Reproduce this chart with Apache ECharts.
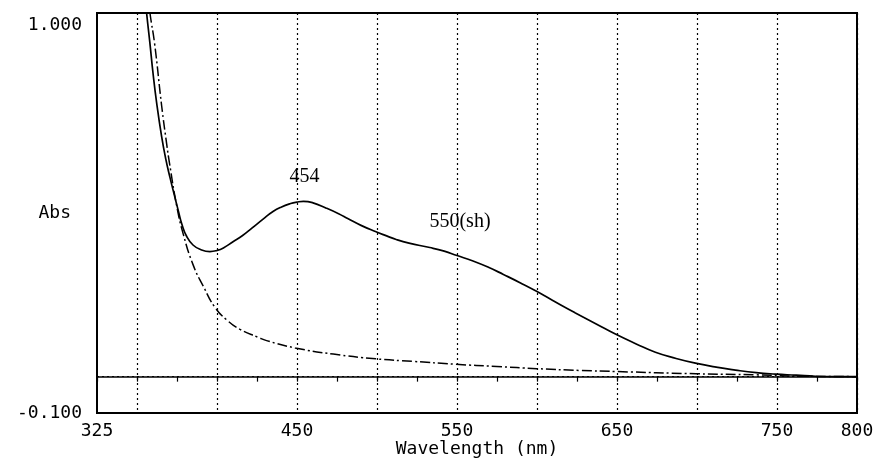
<!DOCTYPE html>
<html>
<head>
<meta charset="utf-8">
<script src="https://cdn.jsdelivr.net/npm/echarts@6/dist/echarts.min.js"></script>
<style>
html,body{margin:0;padding:0;background:#fff;}
#chart{width:876px;height:459px;}
</style>
</head>
<body>
<div id="chart"></div>
<script>
// ---- data ----
const sampleWl = [354.5, 356, 358, 360, 362.3, 365.4, 368, 370.6, 373.7, 376, 378, 381, 385, 390, 395.6, 400, 404, 410, 416, 422, 429, 435, 440, 446, 450, 454, 460, 468, 476, 482, 490, 499, 506, 512, 520, 533, 542, 550, 560, 570, 579, 590, 600, 608, 616, 624, 637, 649, 662, 674, 687, 699, 712, 724, 737, 749, 762, 774, 787, 800];
const sampleAbs = [1.07, 1.0, 0.92, 0.835, 0.752, 0.66, 0.598, 0.548, 0.493, 0.453, 0.42, 0.386, 0.362, 0.349, 0.344, 0.347, 0.354, 0.371, 0.388, 0.409, 0.434, 0.454, 0.466, 0.476, 0.48, 0.482, 0.478, 0.464, 0.448, 0.434, 0.416, 0.399, 0.387, 0.377, 0.367, 0.355, 0.345, 0.333, 0.318, 0.3, 0.281, 0.257, 0.234, 0.214, 0.194, 0.175, 0.145, 0.117, 0.09, 0.067, 0.05, 0.037, 0.026, 0.018, 0.011, 0.007, 0.004, 0.001, 0.0, 0.0];

const baseWl = [357, 358.1, 361, 365.4, 368.6, 370.2, 374.8, 378.9, 385.2, 391.4, 398.8, 406.1, 414.4, 425.8, 431, 448.8, 472.7, 499.2, 522.7, 549.2, 574.8, 599.8, 627, 649.4, 699.4, 737, 768, 800];
const baseAbs = [1.05, 1.0, 0.916, 0.745, 0.638, 0.59, 0.47, 0.392, 0.306, 0.249, 0.19, 0.156, 0.13, 0.108, 0.099, 0.079, 0.062, 0.049, 0.042, 0.034, 0.028, 0.022, 0.017, 0.014, 0.008, 0.005, 0.001, 0.0];

const annotWl = [454, 550];
const annotAbs = [0.482, 0.333];
const annotText = ['454', '550(sh)'];

const xTickLabels = [325, 450, 550, 650, 750, 800];
const yTickLabels = [-0.1, 1.0];
const yRefLine = 0;
const xTitle = 'Wavelength (nm)';
const yTitle = 'Abs';

// ---- build ----
const pair = (xs, ys) => xs.map((x, i) => [x, ys[i]]);
const mono = 'DejaVu Sans Mono';
const yMin = -0.1, yMax = 1.0, yStep = 0.1;
const yCount = Math.round((yMax - yMin) / yStep) + 1;
const ySplitColors = Array.from({length: yCount}, (_, i) =>
  Math.abs(yMin + i * yStep - yRefLine) < 1e-6 ? '#000' : 'rgba(0,0,0,0)');
const chart = echarts.init(document.getElementById('chart'), null, {renderer: 'canvas'});

chart.setOption({
  animation: false,
  backgroundColor: '#fff',
  grid: {left: 97, right: 19, top: 13, bottom: 46, containLabel: false, outerBoundsMode: 'none',
         show: true, borderColor: '#000', borderWidth: 2, backgroundColor: 'transparent'},
  xAxis: {
    type: 'value', min: 325, max: 800, interval: 25,
    name: xTitle, nameLocation: 'middle', nameGap: 27, nameMoveOverlap: false,
    nameTextStyle: {fontFamily: mono, fontSize: 18, color: '#000'},
    axisLine: {show: true, lineStyle: {color: '#000', width: 1.5}},
    axisTick: {show: true, inside: false, length: 5, lineStyle: {color: '#000', width: 1.2}},
    axisLabel: {
      margin: 9, fontFamily: mono, fontSize: 18, color: '#000',
      formatter: v => xTickLabels.some(t => Math.abs(t - v) < 1e-6) ? String(Math.round(v)) : ''
    },
    splitLine: {show: true, lineStyle: {color: ['rgba(0,0,0,0)', '#000'], type: [2, 3], width: 1.2}}
  },
  yAxis: {
    type: 'value', min: yMin, max: yMax, interval: yStep,
    name: yTitle, nameLocation: 'middle', nameRotate: 0, nameGap: 26, nameMoveOverlap: false,
    nameTextStyle: {fontFamily: mono, fontSize: 18, color: '#000'},
    axisLine: {show: true, lineStyle: {color: '#000', width: 1.5}},
    axisTick: {show: false},
    splitLine: {show: true, lineStyle: {color: ySplitColors, type: [2, 3], width: 1.2}},
    axisLabel: {
      margin: 15, fontFamily: mono, fontSize: 18, color: '#000',
      formatter: v => {
        if (Math.abs(v - yTickLabels[1]) < 1e-6) return '{t|' + yTickLabels[1].toFixed(3) + '}';
        if (Math.abs(v - yTickLabels[0]) < 1e-6) return yTickLabels[0].toFixed(3);
        return '';
      },
      rich: {t: {fontFamily: mono, fontSize: 18, color: '#000', padding: [24, 0, 0, 0]}}
    }
  },
  series: [
    {
      type: 'line', data: pair(baseWl, baseAbs), showSymbol: false, smooth: 0.5,
      clip: true, lineStyle: {color: '#000', width: 1.5, type: [10, 3, 2, 3]},
      z: 3
    },
    {
      type: 'line', data: pair(sampleWl, sampleAbs), showSymbol: false, smooth: 0.5,
      clip: true, lineStyle: {color: '#000', width: 1.7},
      markPoint: {
        symbol: 'circle', symbolSize: 0, silent: true,
        data: annotWl.map((w, i) => ({
          coord: [w, annotAbs[i]],
          label: {
            show: true, formatter: annotText[i], position: 'inside',
            offset: i === 0 ? [1, -25] : [3, -34],
            fontFamily: 'Liberation Serif', fontSize: 20, color: '#000'
          }
        }))
      },
      z: 4
    }
  ]
});
</script>
</body>
</html>
